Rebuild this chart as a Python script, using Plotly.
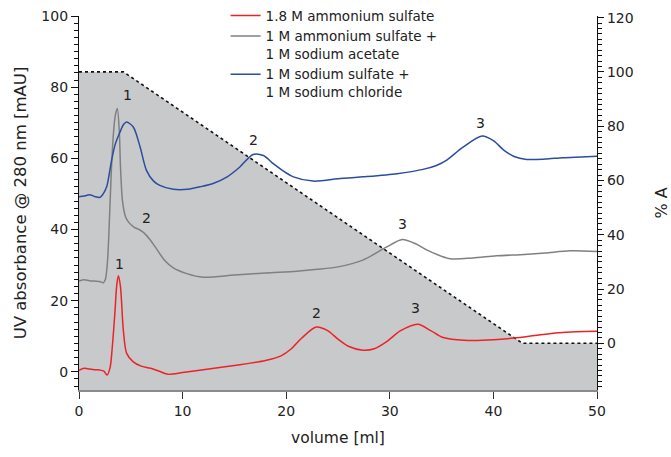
import plotly.graph_objects as go

# ---------------- data ----------------
red_x = [0, 0.5, 1, 1.5, 2, 2.4, 2.7, 3.0, 3.2, 3.45, 3.65, 3.8, 4.0, 4.28, 4.6, 5.24, 6.0, 6.9, 7.8, 8.6, 10, 12, 15, 18, 19.5, 20.5, 21.5,
         22.9, 24, 25, 26, 27.4, 28.5, 29.7, 31, 32.7, 34, 35, 36.5, 38, 40, 42, 44, 46, 48, 50]
red_y = [0.4, 1.0, 0.8, 0.6, 0.5, 0.2, -0.9, 1.2, 6.5, 16, 24.5, 27, 24, 11.7, 5.2, 2.8, 1.6, 1.0, 0.1, -0.7, -0.2, 0.6, 1.8, 3.2, 4.5, 6.5, 9.5,
         12.6, 11.6, 9.2, 7.2, 6.1, 6.5, 8.5, 11.5, 13.4, 11.5, 9.8, 9.0, 8.8, 9.0, 9.5, 10.2, 10.9, 11.3, 11.4]

gray_x = [0, 0.5, 1, 1.5, 2.0, 2.35, 2.55, 2.75, 2.9, 3.1, 3.3, 3.5, 3.7, 3.9, 4.0, 4.2, 4.5, 4.8, 5.3, 5.8, 6.3, 6.9, 7.5, 8.3, 9.1,
          10.4, 12, 15, 18, 21, 23, 25, 27.4, 29.7, 31.2, 32.5, 33.6, 35.8, 38, 40.3, 43, 45, 47.4, 50]
gray_y = [25.5, 25.9, 25.6, 25.5, 25.4, 25.0, 26, 31, 40, 55, 66, 72, 74, 67, 58, 48, 43.5, 42, 40.7, 40.0, 39.0, 37, 34.5, 31.2, 29.2,
          27.6, 26.6, 27.2, 27.8, 28.3, 28.8, 29.5, 31.4, 35.1, 37.2, 36, 34.2, 31.8, 32.0, 32.6, 33, 33.4, 34, 33.8]

blue_x = [0, 0.5, 1, 1.5, 2, 2.35, 2.67, 3.15, 3.5, 3.96, 4.3, 4.6, 5.24, 5.9, 6.5, 7.2, 7.8, 9.1, 10.5, 11.7, 13, 14.3, 15.5, 16.8, 17.8,
          18.75, 19.7, 20.7, 22.6, 25.2, 27.4, 30.7, 33.2, 34.5, 35.5, 37, 38.9, 40, 41, 42, 43.2, 45, 46.7, 48.5, 50]
blue_y = [49.2, 49.4, 49.8, 49.3, 49.0, 50.1, 52, 59.5, 64, 67.4, 69.5, 70.2, 68.8, 63.2, 56.7, 53.6, 52.4, 51.3, 51.3, 52, 53, 54.8, 57.5, 61.1, 60.8,
          58.5, 56.5, 54.8, 53.6, 54.3, 54.8, 55.7, 56.9, 58, 59.5, 63, 66.3, 65, 62.3, 60.5, 59.7, 59.8, 60.2, 60.4, 60.6]

grad_x = [0, 4.3, 42.8, 50]
grad_pct = [100, 100, 0, 0]

peak_x = [3.9, 22.9, 32.5, 4.66, 6.5, 31.2, 16.8, 38.8]
peak_y = [30.4, 16.6, 18.0, 77.7, 43.1, 41.5, 65.1, 69.8]
peak_text = ["1", "2", "3", "1", "2", "3", "2", "3"]

series_names = ["1.8 M ammonium sulfate",
                "1 M ammonium sulfate +<br>1 M sodium acetate",
                "1 M sodium sulfate +<br>1 M sodium chloride"]
series_colors = ["#ec2227", "#808080", "#2b4d9c"]

x_dtick = 10
y_dtick = 20
minor_dtick = 2

left_range = [-5.1, 100]
right_range = [-17.2, 120.6]

FONT = "DejaVu Sans"
TXT = "#222222"

fig = go.Figure()

# gradient shading (on right axis 'y', drawn beneath curves on 'y2')
fig.add_trace(go.Scatter(x=[grad_x[0], grad_x[-1]], y=[right_range[0], right_range[0]],
                         mode="lines", line=dict(width=0, color="rgba(0,0,0,0)"),
                         showlegend=False, hoverinfo="skip", yaxis="y"))
fig.add_trace(go.Scatter(x=grad_x, y=grad_pct, mode="lines", fill="tonexty",
                         fillcolor="#c8c9cb", line=dict(color="#111111", width=1.6, dash="dot"),
                         showlegend=False, hoverinfo="skip", yaxis="y"))

for name, xs, ys, col in zip(series_names, [red_x, gray_x, blue_x], [red_y, gray_y, blue_y], series_colors):
    fig.add_trace(go.Scatter(x=xs, y=ys, mode="lines", name=name,
                             line=dict(color=col, width=1.5, shape="spline", smoothing=0.8),
                             yaxis="y2"))

for px_, py_, t in zip(peak_x, peak_y, peak_text):
    fig.add_annotation(x=px_, y=py_, xref="x", yref="y2", text=t, showarrow=False,
                       font=dict(family=FONT, size=14, color=TXT))

fig.update_layout(
    width=671, height=457,
    margin=dict(l=79, r=74, t=16, b=67, autoexpand=False),
    paper_bgcolor="white", plot_bgcolor="white",
    font=dict(family=FONT, size=14, color=TXT),
    showlegend=True,
    legend=dict(x=0.283, y=1.042, xanchor="left", yanchor="top",
                bgcolor="rgba(0,0,0,0)",
                font=dict(family=FONT, size=13.5, color=TXT), valign="top", traceorder="normal",
                tracegroupgap=0, itemwidth=30),
    xaxis=dict(range=[0, 50], tick0=0, dtick=x_dtick, ticks="outside", ticklen=7, tickwidth=1.3,
               tickcolor="#333333", showline=True, linecolor="#8a8a8a", linewidth=2,
               showgrid=False, zeroline=False, automargin=False,
               title=dict(text="volume [ml]", font=dict(family=FONT, size=15.5, color=TXT), standoff=14)),
    yaxis=dict(range=right_range, tick0=0, dtick=y_dtick, side="right", ticks="outside", ticklen=6,
               tickwidth=1.2, tickcolor="#111111", showline=True, linecolor="#111111", linewidth=1.3,
               showgrid=False, zeroline=False, automargin=False,
               minor=dict(dtick=minor_dtick, tick0=0, ticks="outside", ticklen=3.5, tickcolor="#111111",
                          showgrid=False),
               title=dict(text="% A", font=dict(family=FONT, size=16, color=TXT), standoff=24)),
    yaxis2=dict(range=left_range, tick0=0, dtick=y_dtick, side="left", overlaying="y", ticks="outside",
                ticklen=7, tickwidth=1.2, tickcolor="#111111", showline=True, linecolor="#111111",
                linewidth=1.3, showgrid=False, zeroline=False, automargin=False,
                minor=dict(dtick=minor_dtick, tick0=0, ticks="outside", ticklen=4, tickcolor="#111111",
                           showgrid=False),
                title=dict(text="UV absorbance @ 280 nm [mAU]", font=dict(family=FONT, size=16.5, color=TXT),
                           standoff=10)),
)

fig.write_html("out.html", config={"displayModeBar": False},
               post_script="document.body.style.margin='0px';")
